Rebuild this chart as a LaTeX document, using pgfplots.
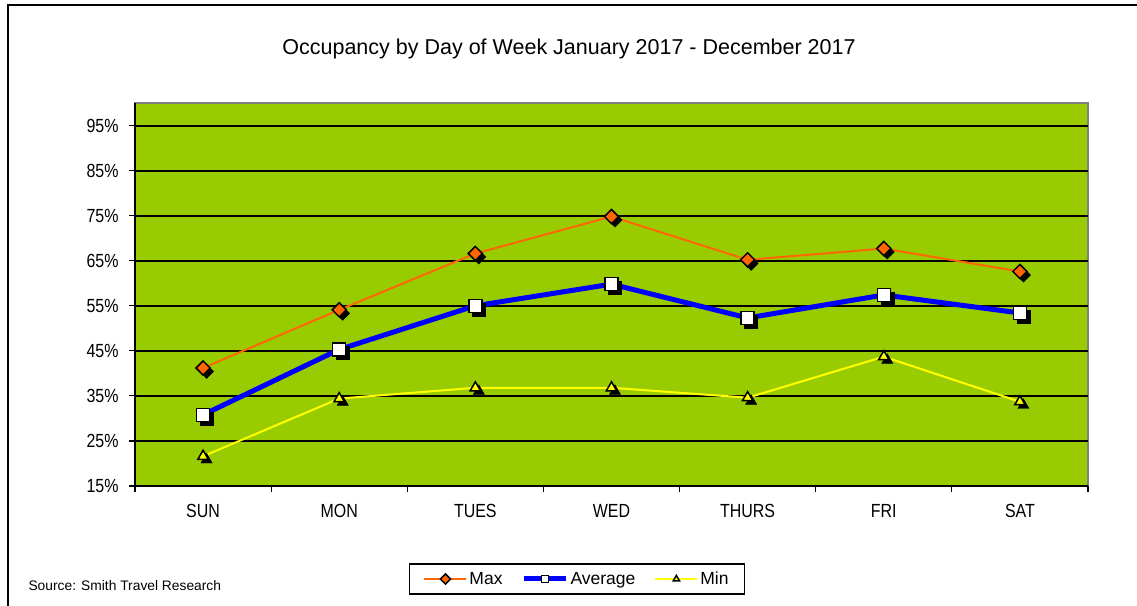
\documentclass[border=0pt]{standalone}
\usepackage{pgfplots}
\pgfplotsset{compat=1.18}
\usepackage{fontspec}
\setmainfont{Liberation Sans}
\newfontfamily\narrowfont[FakeStretch=0.84]{Liberation Sans}
\definecolor{plotbg}{RGB}{153,204,0}
\definecolor{maxc}{RGB}{255,102,0}
\definecolor{avgc}{RGB}{0,0,255}
\definecolor{minc}{RGB}{255,255,0}

\begin{document}
\begin{tikzpicture}[x=1pt,y=1pt]
\useasboundingbox (0,0) rectangle (1137,-605);
\draw[line width=2.5pt] (8,-620) |- (1150,-5);
\node[font=\fontsize{21.5}{24}\selectfont] at (569,-49) {Occupancy by Day of Week January 2017 - December 2017};
\node[anchor=west, font=\fontsize{13.8}{16}\selectfont] at (25,-586) {Source: Smith Travel Research};

\begin{axis}[
  at={(135pt,-486pt)}, anchor=south west,
  scale only axis, width=953pt, height=383pt,
  xmin=-0.5, xmax=6.5, ymin=15, ymax=100,
  clip=false,
  axis background/.style={fill=plotbg, draw=black!50, line width=1.5pt},
  axis x line*=bottom, axis y line*=left,
  axis line style={-, black, line width=2pt},
  tick align=outside,
  xtick={0,1,2,3,4,5,6},
  xticklabels={SUN,MON,TUES,WED,THURS,FRI,SAT},
  minor xtick={-0.5,0.5,1.5,2.5,3.5,4.5,5.5,6.5},
  major x tick style={draw=none},
  minor x tick style={black, line width=1.2pt},
  minor tick length=6pt,
  ytick={15,25,35,45,55,65,75,85,95},
  yticklabels={15\%,25\%,35\%,45\%,55\%,65\%,75\%,85\%,95\%},
  major tick length=6pt,
  y tick style={black, line width=1.2pt},
  ymajorgrids, grid style={black, line width=2pt},
  ticklabel style={font=\narrowfont\fontsize{19}{21}\selectfont},
  xticklabel style={yshift=-9pt},
  yticklabel style={xshift=-7pt},
  legend image code/.code={\draw[mark repeat=2, mark phase=2, #1]
    plot coordinates {(0pt,0pt) (21pt,0pt) (42pt,0pt)};},
  legend image post style={mark size=3.6pt},
  legend style={at={(0.4638,-0.2428)}, anchor=center, legend columns=3,
    draw=black, line width=1.5pt, inner xsep=14pt, inner ysep=6pt,
    font=\fontsize{17.5}{20}\selectfont,
    /tikz/every even column/.append style={column sep=17pt}},
]
% shadows
\addplot[forget plot, only marks, mark=square*, mark size=5pt, black,
  mark options={xshift=3.5pt, yshift=-3.5pt, rotate=45}]
  coordinates {(0,41.2)(1,54.1)(2,66.6)(3,74.8)(4,65.2)(5,67.7)(6,62.6)};
\addplot[forget plot, only marks, mark=square*, mark size=6.5pt, black,
  mark options={xshift=3.5pt, yshift=-3.5pt}]
  coordinates {(0,30.8)(1,45.3)(2,55.0)(3,59.8)(4,52.3)(5,57.4)(6,53.4)};
\addplot[forget plot, only marks, mark=triangle*, mark size=6.5pt, black,
  mark options={xshift=3.5pt, yshift=-3.5pt}]
  coordinates {(0,21.6)(1,34.4)(2,36.8)(3,36.8)(4,34.6)(5,43.7)(6,33.7)};

\addplot[maxc, line width=2pt, mark=square*, mark size=5pt,
  mark options={rotate=45, fill=maxc, draw=black, line width=1.5pt}]
  coordinates {(0,41.2)(1,54.1)(2,66.6)(3,74.8)(4,65.2)(5,67.7)(6,62.6)};
\addlegendentry{Max}
\addplot[avgc, line width=5pt, mark=square*, mark size=6.5pt,
  mark options={fill=white, draw=black, line width=1.5pt}]
  coordinates {(0,30.8)(1,45.3)(2,55.0)(3,59.8)(4,52.3)(5,57.4)(6,53.4)};
\addlegendentry{Average}
\addplot[minc, line width=2pt, mark=triangle*, mark size=6pt,
  mark options={fill=minc, draw=black, line width=1.5pt}]
  coordinates {(0,21.6)(1,34.4)(2,36.8)(3,36.8)(4,34.6)(5,43.7)(6,33.7)};
\addlegendentry{Min}
\end{axis}
\end{tikzpicture}
\end{document}
